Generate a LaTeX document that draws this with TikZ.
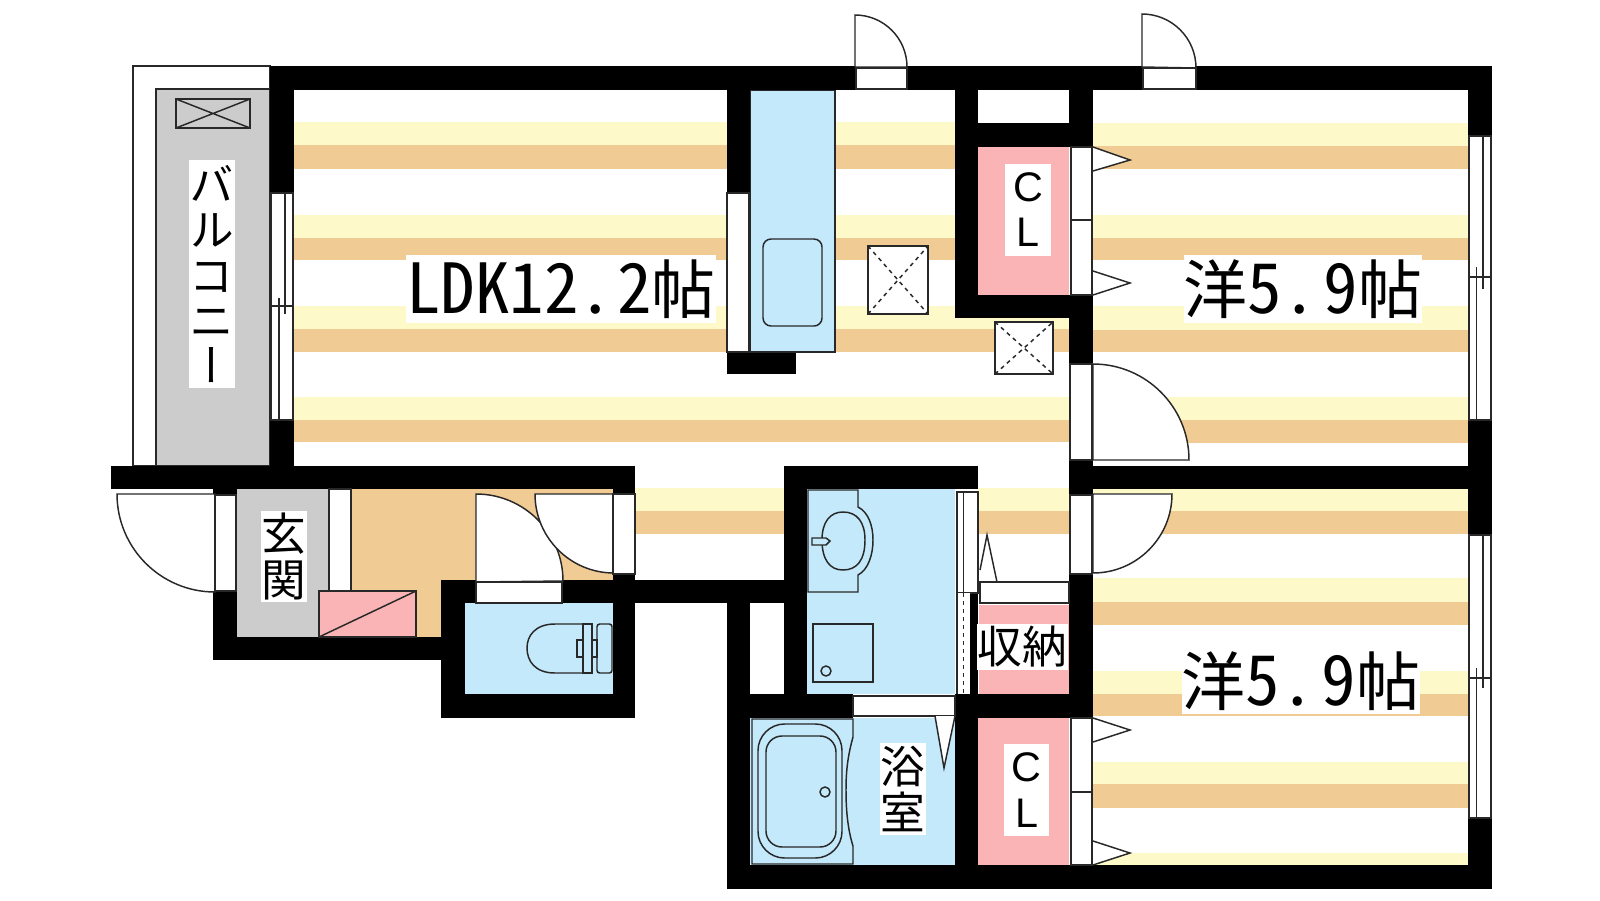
\documentclass[tikz,border=0pt]{standalone}
\usepackage{fontspec}
\setmainfont{Noto Sans CJK JP}
\newfontfamily\halffont[CharacterWidth=Half]{Noto Sans CJK JP}
\newfontfamily\upfont[RawFeature={+vert}]{Noto Sans CJK JP}
\newfontfamily\clfont{Liberation Sans}
\newcommand{\halftext}[1]{{\halffont\fontsize{51.75}{55}\selectfont #1}}
\tikzset{
  wall/.style={fill=black},
  woodlight/.style={fill={rgb, 255:red, 254; green, 249; blue, 201 }},
  wooddark/.style={fill={rgb, 255:red, 240; green, 203; blue, 148 }},
  wetfill/.style={fill={rgb, 255:red, 195; green, 233; blue, 251 }},
  closetfill/.style={fill={rgb, 255:red, 250; green, 180; blue, 182 }},
  greyfill/.style={fill={rgb, 255:red, 204; green, 204; blue, 204 }},
  frameline/.style={draw={rgb, 255:red, 40; green, 40; blue, 40 },line width=1.1pt},
  roomlabel/.style={fill=white,inner sep=0pt,font=\fontsize{48}{50}\selectfont},
  uplabel/.style={fill=white,inner sep=0pt,align=center,minimum width=34.5pt,font=\upfont\fontsize{33.5}{34}\selectfont},
  cllabel/.style={fill=white,inner sep=0pt,align=center,minimum width=34pt,minimum height=69pt,font=\clfont\fontsize{31}{34}\selectfont}
}
\begin{document}
\begin{tikzpicture}[x=0.75pt,y=0.75pt,yscale=-1,xscale=1]
\useasboundingbox (0,0) rectangle (1600,900);

%Shape: Rectangle (floor stripes, living room)
\fill [woodlight] (294,122) rectangle (1069,145);
\fill [wooddark] (294,145) rectangle (1069,169);
\fill [woodlight] (294,215) rectangle (1069,238);
\fill [wooddark] (294,238) rectangle (1069,260);
\fill [woodlight] (294,306) rectangle (1069,329);
\fill [wooddark] (294,329) rectangle (1069,352);
\fill [woodlight] (294,397) rectangle (1069,420);
\fill [wooddark] (294,420) rectangle (1069,442);
\fill [woodlight] (635,488) rectangle (784,511);
\fill [wooddark] (635,511) rectangle (784,534);
\fill [woodlight] (978,488) rectangle (1069,511);
\fill [wooddark] (978,511) rectangle (1069,534);
%Shape: Rectangle (floor stripes, upper room)
\fill [woodlight] (1093,123) rectangle (1468,146);
\fill [wooddark] (1093,146) rectangle (1468,169);
\fill [woodlight] (1093,215) rectangle (1468,238);
\fill [wooddark] (1093,238) rectangle (1468,260);
\fill [woodlight] (1093,306) rectangle (1468,330);
\fill [wooddark] (1093,330) rectangle (1468,352);
\fill [woodlight] (1093,397) rectangle (1468,420);
\fill [wooddark] (1093,420) rectangle (1468,443);
%Shape: Rectangle (floor stripes, lower room)
\fill [woodlight] (1093,489) rectangle (1468,511);
\fill [wooddark] (1093,511) rectangle (1468,534);
\fill [woodlight] (1093,578) rectangle (1468,602);
\fill [wooddark] (1093,602) rectangle (1468,625);
\fill [woodlight] (1093,671) rectangle (1468,694);
\fill [wooddark] (1093,694) rectangle (1468,716);
\fill [woodlight] (1093,762) rectangle (1468,784);
\fill [wooddark] (1093,784) rectangle (1468,808);
\fill [woodlight] (1093,853) rectangle (1468,865);

%Shape: Rectangle (entrance floor)
\fill [wooddark] (351,489) rectangle (613,580);
\fill [wooddark] (351,580) rectangle (441,637);
\fill [greyfill] (237,489) rectangle (329,637);
%Shape: Rectangle (balcony)
\draw [frameline,fill=white] (133,66) rectangle (270,466);
\draw [frameline,greyfill] (156,89) rectangle (270,466);
\draw [frameline] (176,99) rectangle (250,128);
\draw [frameline] (176,99) -- (250,128) (176,128) -- (250,99);
%Shape: Rectangle (kitchen)
\draw [frameline,wetfill] (750,90) rectangle (835,352);
\draw [frameline,rounded corners=6pt] (763,239) rectangle (822,326);
%Shape: Rectangle (wet rooms)
\fill [wetfill] (807,489) rectangle (955,694);
\fill [wetfill] (750,718) rectangle (955,865);
\fill [wetfill] (465,603) rectangle (613,694);
%Shape: Rectangle (closets)
\fill [closetfill] (978,147) rectangle (1069,295);
\fill [closetfill] (979,605) rectangle (1069,694);
\fill [closetfill] (978,718) rectangle (1069,865);
\fill [white] (978,90) rectangle (1069,123);

%Shape: Rectangle (outer walls, top and right)
\fill [wall] (270,66) rectangle (1492,90);
\fill [wall] (270,66) rectangle (294,193);
\fill [wall] (270,420) rectangle (294,466);
\fill [wall] (1468,66) rectangle (1492,136);
\fill [wall] (1468,420) rectangle (1492,535);
\fill [wall] (1468,818) rectangle (1492,889);
\fill [wall] (727,865) rectangle (1492,889);
%Shape: Rectangle (inner walls)
\fill [wall] (111,466) rectangle (635,489);
\fill [wall] (1069,466) rectangle (1492,489);
\fill [wall] (727,90) rectangle (750,193);
\fill [wall] (727,353) rectangle (796,374);
\fill [wall] (955,90) rectangle (978,318);
\fill [wall] (955,295) rectangle (1093,318);
\fill [wall] (955,123) rectangle (1093,147);
\fill [wall] (1069,90) rectangle (1093,147);
\fill [wall] (1069,295) rectangle (1093,364);
\fill [wall] (1069,460) rectangle (1093,495);
\fill [wall] (1069,574) rectangle (1093,718);
%Shape: Rectangle (entrance and toilet walls)
\fill [wall] (213,489) rectangle (237,495);
\fill [wall] (213,591) rectangle (237,660);
\fill [wall] (213,637) rectangle (465,660);
\fill [wall] (441,580) rectangle (465,718);
\fill [wall] (441,694) rectangle (635,718);
\fill [wall] (613,574) rectangle (635,718);
\fill [wall] (441,580) rectangle (784,603);
\fill [wall] (613,489) rectangle (635,494);
%Shape: Rectangle (bath walls)
\fill [wall] (784,466) rectangle (978,489);
\fill [wall] (784,466) rectangle (807,694);
\fill [wall] (727,603) rectangle (750,889);
\fill [wall] (727,694) rectangle (853,718);
\fill [wall] (955,694) rectangle (1093,718);
\fill [wall] (955,694) rectangle (978,889);
\fill [wall] (970,593) rectangle (978,694);

%Shape: Door (top of living room)
\draw [frameline,fill=white] (855,67) -- (855,15) arc (-90:0:52) -- cycle;
\draw [frameline,fill=white] (856,68) rectangle (907,89);
%Shape: Door (top of upper room)
\draw [frameline,fill=white] (1142,67) -- (1142,14) arc (-90:0:54) -- cycle;
\draw [frameline,fill=white] (1143,68) rectangle (1196,89);
%Shape: Door (upper room)
\draw [frameline,fill=white] (1093,460) -- (1093,364) arc (-90:0:96) -- cycle;
\draw [frameline,fill=white] (1070,364) rectangle (1092,460);
%Shape: Door (lower room)
\draw [frameline,fill=white] (1093,494) -- (1172,494) arc (0:90:79) -- cycle;
\draw [frameline,fill=white] (1070,495) rectangle (1092,574);
%Shape: Door (entrance)
\draw [frameline,fill=white] (215,494) -- (117,494) arc (180:90:98) -- cycle;
\draw [frameline,fill=white] (215,495) rectangle (236,591);
%Shape: Door (toilet)
\draw [frameline,fill=white] (476,582) -- (476,494) arc (-90:0:87) -- cycle;
\draw [frameline,fill=white] (476,582) rectangle (562,603);
%Shape: Door (corridor)
\draw [frameline,fill=white] (613,494) -- (535,494) arc (180:90:79) -- cycle;
\draw [frameline,fill=white] (613,494) rectangle (635,574);
%Shape: Door (entrance hall)
\draw [frameline,fill=white] (329,489) rectangle (351,591);
%Shape: Rectangle (shoe box)
\draw [frameline,closetfill] (319,591) rectangle (416,637);
\draw [frameline] (319,637) -- (416,591);

%Shape: Window (balcony)
\draw [frameline,fill=white] (271,193) rectangle (293,420);
\draw [frameline] (285,193) -- (285,314) (279,298) -- (279,420) (271,306) -- (293,306);
%Shape: Window (upper room)
\draw [frameline,fill=white] (1469,136) rectangle (1491,420);
\draw [frameline] (1483,136) -- (1483,289) (1476.5,267) -- (1476.5,420) (1469,277) -- (1491,277);
%Shape: Window (lower room)
\draw [frameline,fill=white] (1469,535) rectangle (1491,818);
\draw [frameline] (1483,535) -- (1483,688) (1476.5,668) -- (1476.5,818) (1469,678) -- (1491,678);
%Shape: Window (kitchen)
\draw [frameline,fill=white] (727,193) rectangle (749,352);
%Shape: Window (bath corridor)
\draw [frameline,fill=white] (853,696) rectangle (955,716);
\draw [frameline,fill=white] (957,492) rectangle (978,593);
\draw [frameline] (963.5,492) -- (963.5,593);
\fill [white] (957,593) rectangle (970,694);
\draw [frameline] (957,593) -- (957,694);
\draw [frameline,dashed] (963.5,593) -- (963.5,694);

%Shape: Closet doors
\draw [frameline,fill=white] (1071,147) rectangle (1092,220);
\draw [frameline,fill=white] (1071,220) rectangle (1092,295);
\draw [frameline,fill=white] (1093,147) -- (1130,160) -- (1093,171);
\draw [frameline,fill=white] (1093,271) -- (1130,283) -- (1093,295);
\draw [frameline,fill=white] (1071,718) rectangle (1092,792);
\draw [frameline,fill=white] (1071,792) rectangle (1092,865);
\draw [frameline,fill=white] (1093,718) -- (1130,730) -- (1093,742);
\draw [frameline,fill=white] (1093,841) -- (1130,853) -- (1093,865);
%Shape: Storage door
\draw [frameline,fill=white] (980,570) -- (987,535) -- (997,582);
\draw [frameline,fill=white] (980,582) rectangle (1069,603);
%Shape: Bath door
\draw [frameline,fill=white] (935,716) -- (944,768) -- (955,716);

%Shape: Vents
\draw [frameline,fill=white] (868,246) rectangle (928,314);
\draw [frameline,dashed] (868,246) -- (928,314) (868,314) -- (928,246);
\draw [frameline,fill=white] (995,322) rectangle (1053,374);
\draw [frameline,dashed] (995,322) -- (1053,374) (995,374) -- (1053,322);

%Shape: Basin
\draw [frameline] (808,490) -- (858,490) -- (858,507) .. controls (868,512) and (873,525) .. (873,540) .. controls (873,555) and (868,570) .. (858,575) -- (858,592) -- (808,592) -- cycle;
\draw [frameline] (843,512) .. controls (830,512) and (822,522) .. (822,540) .. controls (822,560) and (830,570) .. (843,570) .. controls (857,570) and (865,560) .. (865,540) .. controls (865,522) and (857,512) .. (843,512) -- cycle;
\draw [frameline,wetfill] (812,538) -- (826,538) -- (830,541) -- (826,545) -- (812,545) -- cycle;
%Shape: Washer
\draw [frameline] (813,624) rectangle (873,682);
\draw [frameline] (826,671) circle (5);
%Shape: Bath tub
\draw [frameline] (752,719) -- (853,719) -- (853,737) .. controls (848,755) and (846,770) .. (846,790) .. controls (846,812) and (848,830) .. (853,846) -- (853,864) -- (752,864) -- cycle;
\draw [frameline,rounded corners=20pt] (758,724) rectangle (842,858);
\draw [frameline,rounded corners=12pt] (766,736) rectangle (836,847);
\draw [frameline] (825,792) circle (5);
%Shape: Toilet
\draw [frameline] (583,624) -- (555,624) .. controls (535,624) and (527,636) .. (527,648) .. controls (527,661) and (535,673) .. (555,673) -- (583,673);
\draw [frameline] (583,624) rectangle (592,673);
\draw [frameline] (583,640) -- (577,640) -- (577,657) -- (583,657);
\draw [frameline] (592,640) rectangle (597,657);
\draw [frameline,rounded corners=2pt] (597,624) rectangle (612,673);

%Labels
\node [roomlabel,minimum width=228pt,minimum height=51pt] (ldk) at (561,289) {\halftext{LDK12.\hspace{3pt}2}帖};
\node [roomlabel,minimum width=177pt,minimum height=51pt] (upperroom) at (1303,289) {洋\halftext{5.\hspace{5pt}9}帖};
\node [roomlabel,minimum width=179pt,minimum height=50pt] (lowerroom) at (1301,681) {洋\halftext{5.\hspace{5pt}9}帖};
\node [uplabel,minimum height=171pt] (balcony) at (211.5,274) {バ\\ル\\コ\\ニ\\ー};
\node [uplabel,minimum height=68pt] (genkan) at (284,556.5) {玄\\関};
\node [uplabel,minimum height=69pt] (bathroom) at (902.5,789) {浴\\室};
\node [fill=white,inner sep=0pt,minimum width=68pt,minimum height=34.5pt,font=\fontsize{33.5}{34}\selectfont] (storage) at (1022.5,647) {収納};
\node [cllabel] (upperclosetlabel) at (1028,209.5) {C\\L};
\node [cllabel] (lowerclosetlabel) at (1026.5,790) {C\\L};

\end{tikzpicture}
\end{document}
